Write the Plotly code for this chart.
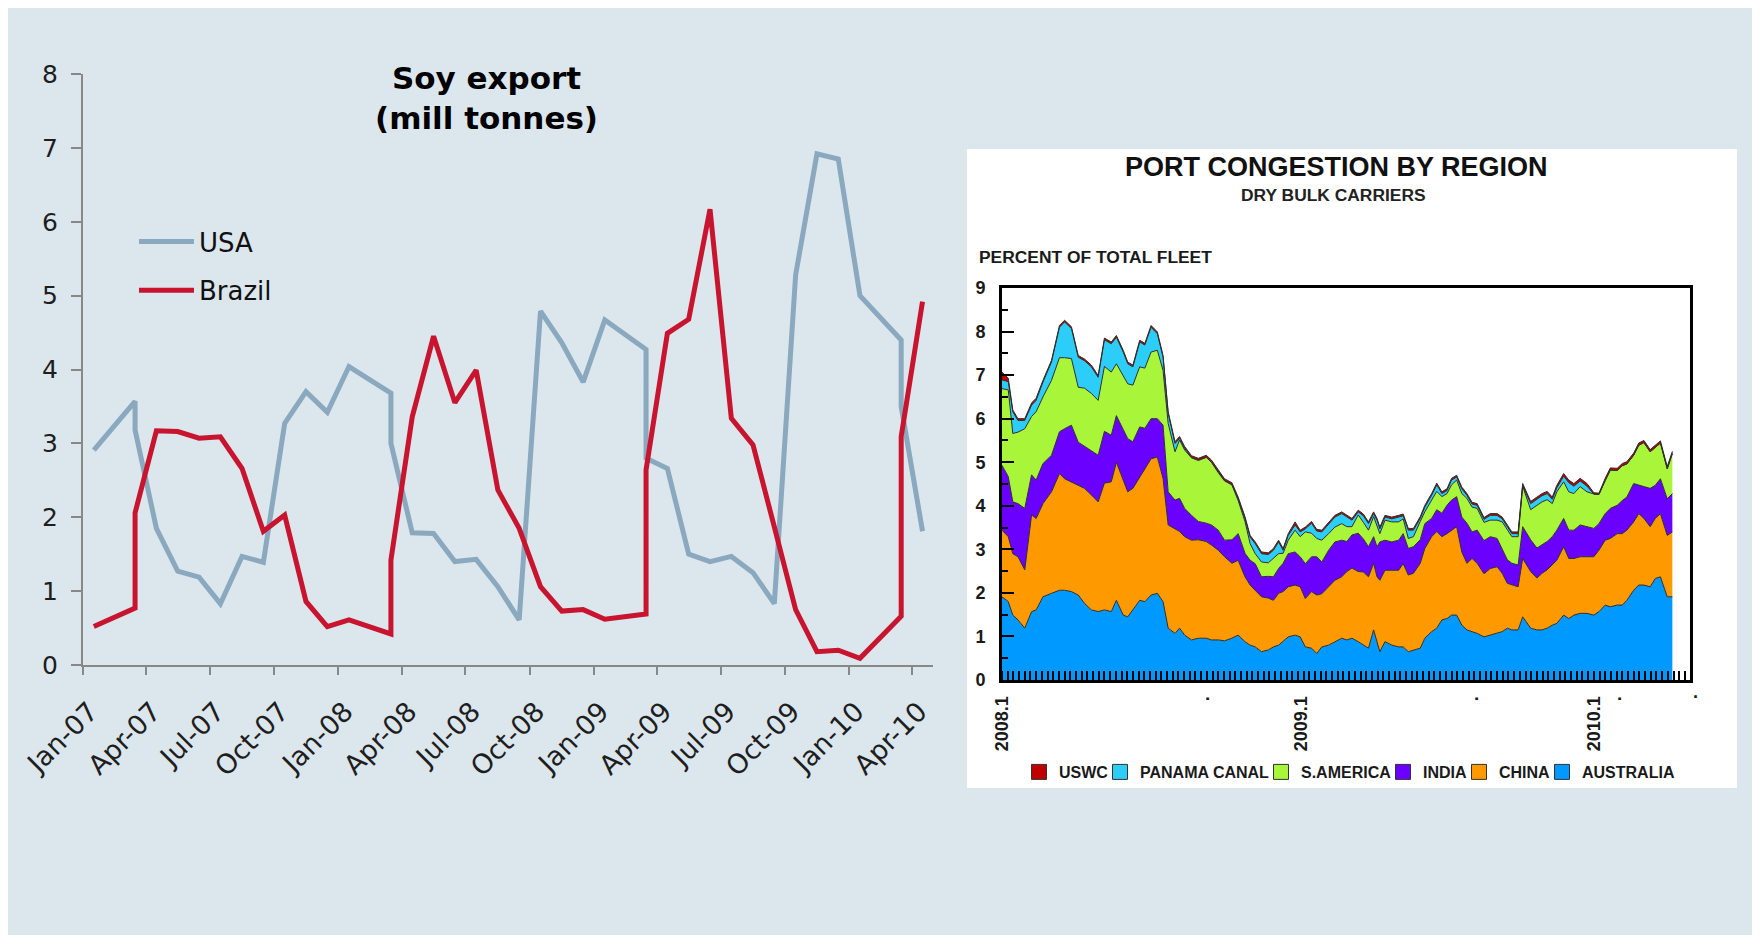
import plotly.graph_objects as go

W, H = 1760, 935
OFF = 8  # page body margin of the html page

# ---------------- Left chart: Soy export (mill tonnes) ----------------
months = ["2007-01", "2007-03", "2007-03", "2007-04", "2007-05", "2007-06", "2007-07", "2007-08",
          "2007-09", "2007-10", "2007-11", "2007-12", "2008-01", "2008-03", "2008-03", "2008-04",
          "2008-05", "2008-06", "2008-07", "2008-08", "2008-09", "2008-10", "2008-11", "2008-12",
          "2009-01", "2009-03", "2009-03", "2009-04", "2009-05", "2009-06", "2009-07", "2009-08",
          "2009-09", "2009-10", "2009-11", "2009-12", "2010-01", "2010-03", "2010-03", "2010-04"]
usa = [2.91, 3.57, 3.18, 1.85, 1.27, 1.19, 0.83, 1.47, 1.39, 3.27, 3.70, 3.42, 4.04, 3.68, 3.00, 1.79,
       1.78, 1.40, 1.43, 1.06, 0.61, 4.79, 4.36, 3.83, 4.67, 4.27, 2.80, 2.66, 1.50, 1.40, 1.47, 1.25,
       0.83, 5.28, 6.92, 6.85, 5.00, 4.40, 3.50, 1.81]
brazil = [0.52, 0.77, 2.06, 3.17, 3.16, 3.07, 3.09, 2.66, 1.81, 2.03, 0.86, 0.52, 0.61, 0.42, 1.42, 3.36,
          4.45, 3.55, 3.99, 2.37, 1.85, 1.06, 0.73, 0.75, 0.62, 0.69, 2.64, 4.49, 4.68, 6.17, 3.34, 2.98,
          1.87, 0.75, 0.18, 0.20, 0.09, 0.66, 3.09, 4.92]
left_title = "Soy export<br>(mill tonnes)"

# ---------------- Right chart: Port congestion by region ----------------
weeks = [0.0, 1.1, 1.9, 2.8, 4.0, 5.2, 6.0, 7.2, 8.7, 10.1, 11.0, 12.2, 13.4, 14.5, 15.7, 16.9, 18.0, 19.2,
         20.1, 21.3, 22.1, 23.0, 24.2, 25.1, 26.2, 27.3, 28.3, 29.2, 30.4, 31.2, 32.1, 33.3, 34.5, 35.9,
         36.8, 38.0, 39.1,
         40.4, 41.5, 42.7, 43.6, 44.5, 45.6, 46.8, 47.7, 48.6, 49.4, 50.3, 51.5, 52.4, 53.3, 54.4, 55.3,
         56.2, 57.4, 58.5, 59.7, 60.6, 61.5, 62.6, 63.5, 64.4, 65.3, 65.9, 66.4, 67.3, 68.5, 69.7, 70.5,
         71.4, 72.3, 73.5, 74.3, 75.5, 76.4, 77.3, 78.2, 79.0, 79.9,
         80.8, 81.7, 82.6, 83.5, 84.7, 85.8, 87.0, 87.9, 88.8, 89.6, 90.7, 91.5, 92.9, 94.0, 94.9, 95.8,
         96.7, 97.5, 98.7, 99.6, 100.5, 101.6, 102.8, 104.0, 104.9, 106.0, 106.9, 108.1, 109.0, 109.8,
         111.0, 111.9, 112.8, 113.9, 114.8, 115.7, 116.9, 117.8]
australia = [1.91, 1.80, 1.49, 1.38, 1.19, 1.57, 1.61, 1.91, 1.99, 2.06, 2.06, 2.03, 1.95, 1.76, 1.61, 1.57,
             1.61, 1.57, 1.83, 1.49, 1.45, 1.61, 1.83, 1.80, 1.95, 1.99, 1.80, 1.19, 1.07, 1.19, 1.03, 0.92,
             0.96, 0.96, 0.92, 0.92, 0.90,
             0.96, 1.03, 0.88, 0.80, 0.76, 0.65, 0.69, 0.76, 0.80, 0.88, 0.99, 1.03, 0.99, 0.76, 0.73, 0.61,
             0.76, 0.80, 0.88, 0.96, 0.92, 0.96, 0.88, 0.80, 0.73, 1.15, 0.84, 0.65, 0.88, 0.80, 0.76, 0.76,
             0.65, 0.69, 0.73, 0.96, 1.11, 1.19, 1.38, 1.41, 1.49, 1.49,
             1.26, 1.15, 1.11, 1.07, 0.99, 1.03, 1.07, 1.11, 1.19, 1.15, 1.15, 1.45, 1.19, 1.15, 1.15, 1.19,
             1.26, 1.30, 1.49, 1.41, 1.49, 1.53, 1.53, 1.49, 1.57, 1.72, 1.68, 1.72, 1.72, 1.83, 2.06, 2.18,
             2.18, 2.14, 2.33, 2.37, 1.91, 1.91]
china = [1.53, 1.49, 1.41, 1.45, 1.34, 2.22, 2.10, 2.14, 2.33, 2.68, 2.56, 2.52, 2.52, 2.64, 2.64, 2.52,
         2.91, 2.98, 3.17, 3.10, 2.87, 2.79, 2.83, 3.06, 3.13, 3.13, 2.83, 2.37, 2.41, 2.22, 2.26, 2.29,
         2.26, 2.22, 2.18, 2.06, 1.93,
         1.72, 1.72, 1.49, 1.38, 1.30, 1.26, 1.19, 1.07, 1.19, 1.15, 1.15, 1.15, 1.15, 1.11, 1.30, 1.34,
         1.22, 1.34, 1.41, 1.41, 1.57, 1.61, 1.61, 1.68, 1.64, 1.53, 1.53, 1.64, 1.64, 1.72, 1.76, 1.91,
         1.76, 1.76, 1.95, 2.06, 2.18, 2.22, 1.91, 1.95, 1.95, 2.03,
         1.68, 1.53, 1.68, 1.61, 1.45, 1.53, 1.53, 1.34, 1.03, 1.03, 0.99, 1.34, 1.30, 1.19, 1.30, 1.34,
         1.38, 1.45, 1.57, 1.38, 1.30, 1.30, 1.30, 1.34, 1.41, 1.49, 1.57, 1.64, 1.64, 1.61, 1.57, 1.64,
         1.53, 1.38, 1.38, 1.45, 1.41, 1.49]
india = [1.49, 1.38, 1.19, 1.22, 1.41, 0.92, 0.88, 0.92, 0.84, 0.96, 1.15, 1.30, 0.99, 0.96, 1.02, 1.07,
         1.19, 1.07, 1.07, 1.15, 1.22, 1.07, 1.15, 0.92, 0.92, 0.88, 1.22, 0.76, 0.65, 0.76, 0.65, 0.57,
         0.42, 0.42, 0.46, 0.46, 0.38,
         0.54, 0.61, 0.54, 0.57, 0.61, 0.46, 0.50, 0.54, 0.57, 0.65, 0.76, 0.76, 0.69, 0.80, 0.80, 0.88,
         0.73, 0.84, 0.88, 0.84, 0.69, 0.76, 0.88, 0.76, 0.69, 0.61, 0.69, 0.88, 0.69, 0.65, 0.69, 0.69,
         0.61, 0.61, 0.54, 0.57, 0.42, 0.50, 0.54, 0.65, 0.69, 0.69,
         0.80, 0.92, 0.61, 0.76, 0.76, 0.73, 0.65, 0.57, 0.54, 0.50, 0.50, 0.73, 0.73, 0.69, 0.65, 0.65,
         0.65, 0.69, 0.65, 0.65, 0.65, 0.73, 0.69, 0.65, 0.61, 0.61, 0.69, 0.65, 0.76, 0.76, 0.88, 0.65,
         0.73, 0.88, 0.76, 0.80, 0.84, 0.88]
s_america = [1.76, 1.99, 1.57, 1.64, 1.83, 1.34, 1.57, 1.53, 1.72, 1.70, 1.63, 1.53, 1.26, 1.34, 1.31, 1.26,
             1.49, 1.45, 1.19, 1.26, 1.26, 1.30, 1.38, 1.38, 1.53, 1.57, 1.26, 1.57, 1.11, 1.34, 1.34, 1.32,
             1.40, 1.51, 1.44, 1.32, 1.36,
             1.26, 0.76, 0.73, 0.38, 0.23, 0.34, 0.31, 0.42, 0.34, 0.23, 0.31, 0.50, 0.46, 0.73, 0.54, 0.42,
             0.50, 0.38, 0.34, 0.38, 0.34, 0.19, 0.42, 0.38, 0.38, 0.46, 0.46, 0.19, 0.46, 0.46, 0.42, 0.34,
             0.23, 0.23, 0.42, 0.27, 0.42, 0.42, 0.38, 0.27, 0.35, 0.38,
             0.54, 0.57, 0.57, 0.50, 0.42, 0.38, 0.42, 0.61, 0.69, 0.61, 0.65, 0.93, 0.69, 0.99, 0.99, 0.96,
             0.76, 0.88, 0.84, 0.88, 0.84, 0.88, 0.80, 0.79, 0.67, 0.76, 0.88, 0.80, 0.80, 0.76, 0.65, 0.92,
             1.01, 0.84, 0.88, 0.82, 0.69, 0.92]
panama = [0.20, 0.19, 0.50, 0.27, 0.19, 0.26, 0.26, 0.34, 0.42, 0.70, 0.82, 0.69, 0.69, 0.63, 0.61, 0.53,
          0.61, 0.65, 0.61, 0.53, 0.46, 0.42, 0.57, 0.53, 0.57, 0.38, 0.30, 0.23, 0.19, 0.04, 0.04, 0.01,
          0.01, 0.01, 0.01, 0.01, 0.01,
          0.01, 0.04, 0.07, 0.15, 0.23, 0.19, 0.19, 0.19, 0.27, 0.07, 0.11, 0.12, 0.11, 0.07, 0.23, 0.17,
          0.19, 0.23, 0.23, 0.23, 0.23, 0.15, 0.07, 0.15, 0.15, 0.07, 0.15, 0.11, 0.07, 0.07, 0.11, 0.07,
          0.19, 0.15, 0.07, 0.11, 0.11, 0.15, 0.07, 0.07, 0.11, 0.07,
          0.11, 0.07, 0.07, 0.07, 0.07, 0.11, 0.11, 0.07, 0.07, 0.07, 0.07, 0.02, 0.14, 0.14, 0.14, 0.14,
          0.10, 0.09, 0.13, 0.21, 0.17, 0.13, 0.13, 0.00, 0.00, 0.00, 0.00, 0.00, 0.00, 0.00, 0.00, 0.00,
          0.00, 0.00, 0.00, 0.00, 0.00, 0.00]
uswc = [0.18, 0.08, 0.04, 0.04, 0.04, 0.05, 0.05, 0.04, 0.04, 0.04, 0.04, 0.04, 0.04, 0.04, 0.04, 0.04,
        0.04, 0.04, 0.04, 0.04, 0.04, 0.04, 0.04, 0.04, 0.04, 0.04, 0.04, 0.04, 0.04, 0.04, 0.04, 0.04,
        0.04, 0.04, 0.04, 0.04, 0.04,
        0.04, 0.04, 0.04, 0.04, 0.04, 0.04, 0.04, 0.04, 0.04, 0.04, 0.04, 0.07, 0.04, 0.04, 0.04, 0.04,
        0.04, 0.04, 0.04, 0.04, 0.04, 0.04, 0.04, 0.04, 0.04, 0.04, 0.04, 0.04, 0.04, 0.04, 0.04, 0.04,
        0.04, 0.04, 0.04, 0.04, 0.04, 0.04, 0.04, 0.04, 0.04, 0.04,
        0.04, 0.04, 0.04, 0.04, 0.04, 0.04, 0.04, 0.04, 0.04, 0.04, 0.04, 0.04, 0.05, 0.05, 0.05, 0.05,
        0.05, 0.06, 0.06, 0.06, 0.06, 0.06, 0.06, 0.03, 0.03, 0.05, 0.05, 0.05, 0.05, 0.05, 0.05, 0.05,
        0.05, 0.05, 0.05, 0.05, 0.05, 0.05]
region_names = ["AUSTRALIA", "CHINA", "INDIA", "S.AMERICA", "PANAMA CANAL", "USWC"]
region_colors = ["#0099FF", "#FF9900", "#6A00FF", "#A8F53A", "#2CCDF8", "#C00000"]
week_tickvals = [0, 35.3, 52.5, 82.6, 104.0, 107.7]
week_ticktext = ["2008.1", ".", "2009.1", ".", "2010.1", "."]
right_title = "PORT CONGESTION BY REGION"
right_subtitle = "DRY BULK CARRIERS"
right_ylabel = "PERCENT OF TOTAL FLEET"

BG = "#DCE6ED"


def px(x):
    return (x - OFF) / W


def py(y):
    return 1 - (y - OFF) / H


fig = go.Figure()

# left lines
fig.add_trace(go.Scatter(x=months, y=usa, name="USA", mode="lines", xperiod="M1",
                         xperiodalignment="middle", line=dict(color="#8AA8BE", width=5),
                         legendgroup="a", xaxis="x", yaxis="y"))
fig.add_trace(go.Scatter(x=months, y=brazil, name="Brazil", mode="lines", xperiod="M1",
                         xperiodalignment="middle", line=dict(color="#C8142F", width=5),
                         legendgroup="b", xaxis="x", yaxis="y"))

# right stacked areas
series = [australia, china, india, s_america, panama, uswc]
for name, col, vals in zip(region_names, region_colors, series):
    fig.add_trace(go.Scatter(x=weeks, y=vals, name=name, mode="lines", stackgroup="one",
                             fillcolor=col, line=dict(color="#2e2e2e", width=1),
                             showlegend=False, xaxis="x2", yaxis="y2"))

# legend entries (square swatches) for the right chart, one small legend per entry
legend_box_left = [1033, 1114, 1275, 1397, 1473, 1556]   # USWC ... AUSTRALIA (screen px)
legend_font = dict(family="Liberation Sans", size=16, color="#1a1a1a", weight="bold")
extra_legends = {}
for k, (name, col) in enumerate(zip(region_names[::-1], region_colors[::-1])):
    lname = "legend%d" % (k + 2)
    fig.add_trace(go.Scatter(x=[None], y=[None], name=name, mode="markers",
                             marker=dict(symbol="square", size=15, color=col,
                                         line=dict(color="#333333", width=1)),
                             legend=lname, xaxis="x2", yaxis="y2"))
    extra_legends[lname] = dict(x=px(legend_box_left[k] - 14), y=py(772), xanchor="left",
                                yanchor="middle", bgcolor="rgba(0,0,0,0)", font=legend_font)

left_tick_font = dict(family="DejaVu Sans", size=25, color="#1e1e1e")
left_xtick_font = dict(family="DejaVu Sans", size=27, color="#1e1e1e")
right_tick_font = dict(family="Liberation Sans", size=18, color="#1a1a1a", weight="bold")

fig.update_layout(
    width=W, height=H,
    margin=dict(l=0, r=0, t=0, b=0, autoexpand=False),
    paper_bgcolor=BG,
    plot_bgcolor="rgba(0,0,0,0)",
    xaxis=dict(domain=[px(83), px(933)], anchor="y", type="date", automargin=False,
               range=["2007-01-01", "2010-05-01"], tick0="2007-01-01", dtick="M3",
               tickformat="%b-%y", tickangle=-45, ticks="outside", ticklen=8, tickwidth=2,
               tickcolor="#888888", showline=True, linecolor="#888888", linewidth=2,
               showgrid=False, zeroline=False, tickfont=left_xtick_font,
               ticklabelshift=7, ticklabelstandoff=10),
    yaxis=dict(domain=[py(665), py(74)], anchor="x", range=[0, 8], dtick=1, ticks="outside",
               automargin=False,
               ticklen=10, tickwidth=2, tickcolor="#888888", showline=True, linecolor="#888888",
               linewidth=2, showgrid=False, zeroline=False, tickfont=left_tick_font,
               ticklabelstandoff=8),
    xaxis2=dict(domain=[px(1002), px(1690)], anchor="y2", range=[0, 120.9], automargin=False,
                tickmode="array", tickvals=week_tickvals, ticktext=week_ticktext,
                tickangle=-90, ticks="", showline=True, linecolor="black", linewidth=3,
                mirror=True, showgrid=False, zeroline=False, tickfont=right_tick_font,
                ticklabelstandoff=6,
                minor=dict(tickmode="linear", tick0=0, dtick=1, ticks="inside", ticklen=9,
                           tickwidth=1.5, tickcolor="black", showgrid=False)),
    yaxis2=dict(domain=[py(680), py(288)], anchor="x2", range=[0, 9], dtick=1, automargin=False,
                ticks="inside", ticklen=12, tickwidth=2, tickcolor="black",
                showline=True, linecolor="black", linewidth=3, mirror=True,
                showgrid=False, zeroline=False, tickfont=right_tick_font, ticklabelstandoff=10,
                minor=dict(dtick=0.5, ticks="inside", ticklen=6, tickwidth=2,
                           tickcolor="black", showgrid=False)),
    yaxis3=dict(overlaying="y2", side="right", anchor="x2", range=[0, 9], dtick=1,
                automargin=False,
                ticks="", showline=False, showgrid=False, zeroline=False,
                tickfont=right_tick_font, ticklabelstandoff=11),
    legend=dict(x=px(134), y=py(218), xanchor="left", yanchor="top", bgcolor="rgba(0,0,0,0)",
                font=dict(family="DejaVu Sans", size=26, color="#111111"),
                tracegroupgap=12, itemwidth=55),
    shapes=[
        dict(type="rect", xref="paper", yref="paper", x0=px(967), x1=px(1737), y0=py(788),
             y1=py(149), fillcolor="white", line=dict(width=0), layer="below"),
    ],
    annotations=[
        dict(text=left_title, x=px(486), y=py(98), xref="paper", yref="paper",
             xanchor="center", yanchor="middle", showarrow=False,
             font=dict(family="DejaVu Sans", size=31, color="#000000", weight="bold")),
        dict(text=right_title, x=px(1336), y=py(167), xref="paper", yref="paper",
             xanchor="center", yanchor="middle", showarrow=False,
             font=dict(family="Liberation Sans", size=27, color="#111111", weight="bold")),
        dict(text=right_subtitle, x=px(1333), y=py(195), xref="paper", yref="paper",
             xanchor="center", yanchor="middle", showarrow=False,
             font=dict(family="Liberation Sans", size=17.4, color="#222222", weight="bold")),
        dict(text=right_ylabel, x=px(977), y=py(257), xref="paper", yref="paper",
             xanchor="left", yanchor="middle", showarrow=False,
             font=dict(family="Liberation Sans", size=17.4, color="#1a1a1a", weight="bold")),
        dict(text=".", x=px(1695), y=py(692), xref="paper", yref="paper",
             xanchor="center", yanchor="middle", showarrow=False,
             font=dict(family="Liberation Sans", size=18, color="#1a1a1a", weight="bold")),
    ],
    **extra_legends,
)

fig.write_html("out.html")
